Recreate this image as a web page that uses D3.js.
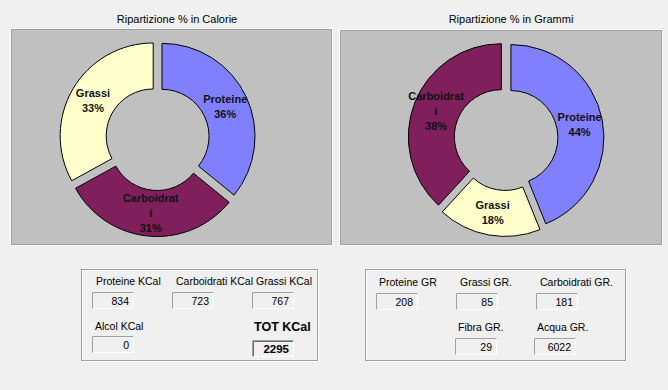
<!DOCTYPE html>
<html lang="it">
<head>
<meta charset="UTF-8">
<title>Ripartizione %</title>
<script src="https://d3js.org/d3.v7.min.js"></script>
<style>
  body { margin: 0; background: #f0f0f0; }
  svg { display: block; font-family: Arial, "Liberation Sans", sans-serif; }
</style>
</head>
<body>
<div id="chart"></div>
<script>
// dati
const kcalCategories = ["Proteine", "Carboidrati", "Grassi"];
const kcalValues = [834, 723, 767];
const grCategories = ["Proteine", "Grassi", "Carboidrati"];
const grValues = [208, 85, 181];
const sliceColors = { "Proteine": "#8080ff", "Carboidrati": "#7f1f5c", "Grassi": "#ffffcc" };

const kcalFieldLabels = ["Proteine KCal", "Carboidrati KCal", "Grassi KCal", "Alcol KCal"];
const kcalFieldValues = [834, 723, 767, 0];
const totLabel = "TOT KCal";
const totValue = 2295;
const grFieldLabels = ["Proteine GR", "Grassi GR.", "Carboidrati GR.", "Fibra GR.", "Acqua GR."];
const grFieldValues = [208, 85, 181, 29, 6022];

const W = 668, H = 390;
const svg = d3.select("#chart").append("svg").attr("width", W).attr("height", H);

function panel(x, y, w, h) {
    svg.append("rect").attr("x", x - 0.5).attr("y", y - 0.5).attr("width", w + 1).attr("height", h + 1)
        .attr("fill", "none").attr("stroke", "#ffffff");
    svg.append("rect").attr("x", x + 0.5).attr("y", y + 0.5).attr("width", w - 1).attr("height", h - 1)
        .attr("fill", "#c0c0c0").attr("stroke", "#a0a0a0");
}

function wrapLabel(name) {
    // il grafico originale spezza le parole troppo lunghe
    return name.length > 10 ? [name.slice(0, 10), name.slice(10)] : [name];
}

function donut(opt) {
    panel(opt.box[0], opt.box[1], opt.box[2], opt.box[3]);
    svg.append("text").attr("x", opt.titleX).attr("y", 23).attr("text-anchor", "middle")
        .attr("font-size", 11).attr("fill", "#000").text(opt.title);

    const total = d3.sum(opt.values);
    const pie = d3.pie().sort(null).value(d => d.v);
    const arcs = pie(opt.cats.map((c, i) => ({ c, v: opt.values[i] })));
    const R = 93, r = 47, explode = 5;
    const arc = d3.arc().innerRadius(r).outerRadius(R);
    const labelArc = d3.arc().innerRadius(70).outerRadius(70);

    const g = svg.append("g").attr("transform", `translate(${opt.cx},${opt.cy})`);
    const slice = g.selectAll("g.slice").data(arcs).enter().append("g")
        .attr("transform", d => {
            const a = (d.startAngle + d.endAngle) / 2;
            return `translate(${explode * Math.sin(a)},${-explode * Math.cos(a)})`;
        });
    slice.append("path").attr("d", arc)
        .attr("fill", d => sliceColors[d.data.c])
        .attr("stroke", "#000").attr("stroke-width", 1);

    slice.each(function (d) {
        const [lx, ly] = labelArc.centroid(d);
        const lines = wrapLabel(d.data.c).concat([Math.round(d.data.v / total * 100) + "%"]);
        const lh = 15;
        const t = d3.select(this).append("text").attr("text-anchor", "middle")
            .attr("font-size", 11).attr("font-weight", "bold").attr("fill", "#111");
        lines.forEach((s, i) => {
            t.append("tspan").attr("x", lx)
                .attr("y", ly + (i - (lines.length - 1) / 2) * lh + 4).text(s);
        });
    });
}

donut({ box: [11, 29, 321, 216], title: "Ripartizione % in Calorie", titleX: 177,
        cx: 157.5, cy: 138.5, cats: kcalCategories, values: kcalValues });
donut({ box: [340, 30, 322, 215], title: "Ripartizione % in Grammi", titleX: 511,
        cx: 506, cy: 138.5, cats: grCategories, values: grValues });

function groupBox(x, y, w, h) {
    svg.append("rect").attr("x", x + 1.5).attr("y", y + 1.5).attr("width", w - 1).attr("height", h - 1)
        .attr("fill", "none").attr("stroke", "#ffffff");
    svg.append("rect").attr("x", x + 0.5).attr("y", y + 0.5).attr("width", w - 1).attr("height", h - 1)
        .attr("fill", "none").attr("stroke", "#a0a0a0");
}

function field(label, value, lx, ly, bx, by, bw, bh, bold) {
    svg.append("text").attr("x", lx).attr("y", ly)
        .attr("font-size", bold ? 12.5 : 10.5).attr("font-weight", bold ? "bold" : "normal")
        .attr("fill", "#000").text(label);
    const g = svg.append("g").attr("transform", `translate(${bx},${by})`);
    g.append("rect").attr("width", bw).attr("height", bh).attr("fill", "#f0f0f0");
    g.append("path").attr("d", `M0.5,${bh}V0.5H${bw}`).attr("fill", "none").attr("stroke", "#a0a0a0");
    g.append("path").attr("d", `M0.5,${bh - 0.5}H${bw - 0.5}V0.5`).attr("fill", "none").attr("stroke", "#ffffff");
    if (bold) {
        g.append("path").attr("d", `M1.5,${bh - 1}V1.5H${bw - 1}`).attr("fill", "none").attr("stroke", "#696969");
    }
    g.append("text").attr("x", bw - 5).attr("y", bh - 4).attr("text-anchor", "end")
        .attr("font-size", bold ? 11.5 : 10.5).attr("font-weight", bold ? "bold" : "normal")
        .attr("fill", "#000").text(value);
}

groupBox(81, 269, 237, 92);
const kcalLayout = [[96, 285, 92, 292], [176, 285, 172, 292], [256, 285, 252, 292], [95, 330, 92, 336]];
kcalFieldLabels.forEach((l, i) => {
    const p = kcalLayout[i];
    field(l, kcalFieldValues[i], p[0], p[1], p[2], p[3], 42, 17, false);
});
field(totLabel, totValue, 254, 331, 252, 340, 42, 17, true);

groupBox(365, 269, 261, 92);
const grLayout = [[379, 286, 376, 293], [460, 286, 456, 293], [540, 286, 536, 293], [458, 331, 455, 338], [537, 331, 534, 338]];
grFieldLabels.forEach((l, i) => {
    const p = grLayout[i];
    field(l, grFieldValues[i], p[0], p[1], p[2], p[3], 42, 17, false);
});
</script>
</body>
</html>
